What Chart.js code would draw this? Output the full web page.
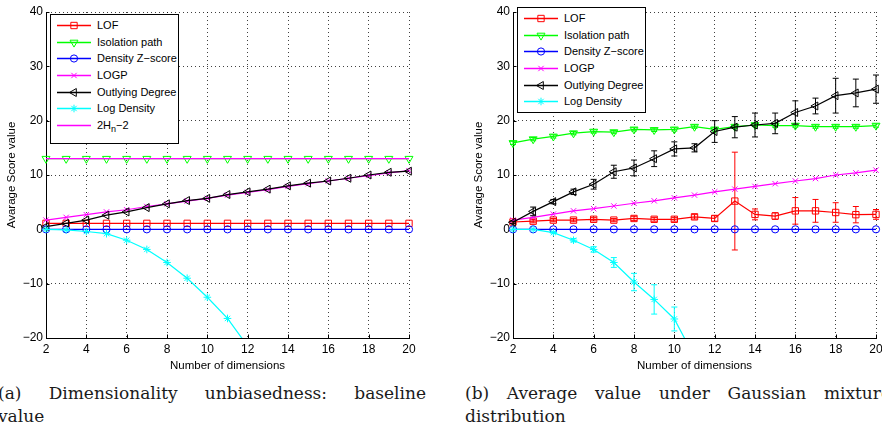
<!DOCTYPE html>
<html>
<head>
<meta charset="utf-8">
<script src="https://cdn.jsdelivr.net/npm/chart.js@4.4.1/dist/chart.umd.min.js"></script>
<style>
  html, body { margin: 0; padding: 0; background: #fff; }
  body { width: 882px; height: 432px; overflow: hidden; position: relative; font-family: "Liberation Sans", Arial, sans-serif; }
  .panel { position: absolute; top: 0; width: 430px; height: 375px; }
  .panel canvas.plot { position: absolute; left: 0; top: 0; }
  .legend { position: absolute; left: 50px; width: 127px; border: 1px solid #000; background: #fff; font-size: 11px; color: #000; padding-top: 2px; }
  .legend .row { position: relative; height: 16.7px; line-height: 16.7px; }
  .legend .row canvas { position: absolute; left: 5px; top: 1px; }
  .legend .row span { position: absolute; left: 46px; top: 0; white-space: nowrap; }
  .legend sub { font-size: 9px; vertical-align: -3px; line-height: 0; }
  .cap { position: absolute; font-family: "DejaVu Serif", "Liberation Serif", serif; font-size: 17px; line-height: 23px; color: #1a1a1a; }
  .cap .l1 { text-align: justify; text-align-last: justify; }
  .cap .l2 { white-space: nowrap; }
</style>
</head>
<body>

<div class="panel" id="panelA" style="left:0px">
  <canvas class="plot" id="chartA" width="430" height="375"></canvas>
  <div class="legend" id="legendA" style="top:14px; height:126px"></div>
</div>
<div class="panel" id="panelB" style="left:467px">
  <canvas class="plot" id="chartB" width="430" height="375"></canvas>
  <div class="legend" id="legendB" style="top:7px; height:102px"></div>
</div>

<div class="cap" style="left:-2px; top:382px; width:428px">
  <div class="l1">(a) Dimensionality unbiasedness: baseline</div>
  <div class="l2">value</div>
</div>
<div class="cap" style="left:465px; top:382px; width:426px">
  <div class="l1">(b) Average value under Gaussian mixture</div>
  <div class="l2">distribution</div>
</div>

<script>
// --- données ---
const dims = [2, 3, 4, 5, 6, 7, 8, 9, 10, 11, 12, 13, 14, 15, 16, 17, 18, 19, 20];
const xTicks = [2, 4, 6, 8, 10, 12, 14, 16, 18, 20];
const yTicks = [-20, -10, 0, 10, 20, 30, 40];

// (a) baseline
const lofA  = [1.1, 1.1, 1.1, 1.1, 1.1, 1.1, 1.1, 1.1, 1.1, 1.1, 1.1, 1.1, 1.1, 1.1, 1.1, 1.1, 1.1, 1.1, 1.1];
const isoA  = [13.0, 13.0, 13.0, 13.0, 13.0, 13.0, 13.0, 13.0, 13.0, 13.0, 13.0, 13.0, 13.0, 13.0, 13.0, 13.0, 13.0, 13.0, 13.0];
const dzA   = [0, 0, 0, 0, 0, 0, 0, 0, 0, 0, 0, 0, 0, 0, 0, 0, 0, 0, 0];
const logpA = [1.7, 2.2, 2.7, 3.2, 3.6, 4.2, 4.7, 5.2, 5.7, 6.3, 6.8, 7.3, 7.9, 8.4, 8.9, 9.4, 9.9, 10.4, 10.8];
const odA   = [0.5, 1.1, 1.7, 2.6, 3.2, 4.0, 4.7, 5.3, 5.7, 6.4, 6.9, 7.4, 8.0, 8.5, 8.9, 9.4, 10.0, 10.5, 10.7];
const ldA   = [0, -0.1, -0.4, -0.8, -2.0, -3.7, -6.1, -9.0, -12.5, -16.4, -21.5, -27.5, -34, -41, -49, -57, -66, -76, -86];
const hnA   = [13.0, 13.0, 13.0, 13.0, 13.0, 13.0, 13.0, 13.0, 13.0, 13.0, 13.0, 13.0, 13.0, 13.0, 13.0, 13.0, 13.0, 13.0, 13.0];

// (b) mélange gaussien (+ barres d'erreur)
const lofB     = [1.35, 1.5, 1.7, 1.7, 1.85, 1.7, 2.0, 1.85, 1.85, 2.3, 2.0, 5.2, 2.75, 2.45, 3.4, 3.4, 3.1, 2.7, 2.75];
const lofErrB  = [0.2, 0.3, 0.3, 0.3, 0.3, 0.3, 0.4, 0.35, 0.35, 0.4, 0.5, 9.0, 1.0, 0.6, 2.45, 2.1, 1.8, 1.5, 0.9];
const isoB     = [15.9, 16.6, 17.1, 17.7, 18.0, 17.9, 18.4, 18.3, 18.4, 18.9, 18.4, 18.9, 19.2, 19.1, 19.1, 18.9, 18.9, 18.9, 19.1];
const isoErrB  = [0.3, 0.3, 0.3, 0.3, 0.3, 0.3, 0.3, 0.3, 0.3, 0.3, 0.3, 0.3, 0.3, 0.3, 0.3, 0.3, 0.3, 0.3, 0.3];
const dzB      = [0, 0, 0, 0, 0, 0, 0, 0, 0, 0, 0, 0, 0, 0, 0, 0, 0, 0, 0];
const logpB    = [1.7, 2.2, 2.8, 3.4, 3.8, 4.3, 4.8, 5.25, 5.8, 6.3, 6.9, 7.4, 7.9, 8.4, 8.9, 9.35, 10.0, 10.4, 10.9];
const odB      = [1.3, 3.3, 5.1, 6.9, 8.3, 10.6, 11.3, 13.0, 14.8, 15.0, 18.0, 18.8, 19.2, 19.5, 21.5, 22.7, 24.6, 25.1, 25.8];
const odErrB   = [0.2, 0.8, 0.4, 0.5, 0.9, 1.2, 1.45, 1.45, 1.3, 0.75, 2.0, 1.95, 2.2, 1.9, 2.15, 1.45, 3.2, 2.55, 2.6];
const ldB      = [0, 0, -0.6, -2.0, -3.7, -6.1, -9.7, -12.9, -16.5, -23.5, -31, -40, -50, -60, -72, -84, -97, -110, -125];
const ldErrB   = [0, 0, 0.1, 0.3, 0.5, 0.9, 1.6, 2.7, 2.2, 2.5, 2.5, 2.5, 2.5, 2.5, 2.5, 2.5, 2.5, 2.5, 2.5];

// --- styles des séries (style MATLAB) ---
const STYLES = {
  lof:  { label: "LOF",             color: "#ff0000", pointStyle: "rect",     rotation: 0,   radius: 4.5 },
  iso:  { label: "Isolation path",  color: "#00ff00", pointStyle: "triangle", rotation: 180, radius: 4.6 },
  dz:   { label: "Density Z\u2212score", color: "#0000ff", pointStyle: "circle", rotation: 0, radius: 3.6 },
  logp: { label: "LOGP",            color: "#ff00ff", pointStyle: "crossRot", rotation: 0,   radius: 3.8 },
  od:   { label: "Outlying Degree", color: "#000000", pointStyle: "triangle", rotation: -90, radius: 4.6 },
  ld:   { label: "Log Density",     color: "#00ffff", pointStyle: "star",     rotation: 0,   radius: 3.8 },
  hn:   { label: "2H<sub>n</sub>\u22122", color: "#ff00ff", pointStyle: false, rotation: 0,  radius: 0 }
};

function xy(vals) {
  return dims.map((d, i) => ({ x: d, y: vals[i] }));
}

function makeDataset(key, vals, errs, idx) {
  const s = STYLES[key];
  return {
    label: s.label,
    data: xy(vals),
    errors: errs || null,
    borderColor: s.color,
    backgroundColor: "rgba(0,0,0,0)",
    borderWidth: 1.2,
    pointStyle: s.pointStyle,
    pointRotation: s.rotation,
    pointRadius: s.radius,
    pointBorderWidth: 1,
    pointBorderColor: s.color,
    pointBackgroundColor: "rgba(0,0,0,0)",
    tension: 0,
    order: 20 - idx, // les dernières séries dessinées au-dessus
    clip: { left: 8, top: 8, right: 8, bottom: 0 }
  };
}

// petits traits de graduation vers l'intérieur (comme MATLAB)
const inwardTicks = {
  id: "inwardTicks",
  beforeDatasetsDraw(chart) {
    const { ctx, chartArea: a, scales: { x, y } } = chart;
    ctx.save();
    ctx.strokeStyle = "#000";
    ctx.lineWidth = 1;
    ctx.beginPath();
    xTicks.forEach((v) => {
      const px = Math.round(x.getPixelForValue(v)) + 0.5;
      ctx.moveTo(px, a.bottom);
      ctx.lineTo(px, a.bottom - 3.5);
    });
    yTicks.forEach((v) => {
      const py = Math.round(y.getPixelForValue(v)) + 0.5;
      ctx.moveTo(a.left, py);
      ctx.lineTo(a.left + 3.5, py);
    });
    ctx.stroke();
    ctx.restore();
  }
};

// barres d'erreur dessinées via les échelles du graphique
const errorBars = {
  id: "errorBars",
  afterDatasetDraw(chart, args) {
    const ds = chart.data.datasets[args.index];
    if (!ds.errors) return;
    const { ctx, chartArea: a, scales: { x, y } } = chart;
    ctx.save();
    ctx.beginPath();
    ctx.rect(a.left - 8, a.top - 8, a.right - a.left + 16, a.bottom - a.top + 8);
    ctx.clip();
    ctx.strokeStyle = ds.borderColor;
    ctx.lineWidth = 1;
    ds.data.forEach((p, i) => {
      const e = ds.errors[i];
      if (!e) return;
      const px = x.getPixelForValue(p.x);
      const top = y.getPixelForValue(p.y + e);
      const bot = y.getPixelForValue(p.y - e);
      ctx.beginPath();
      ctx.moveTo(px, top); ctx.lineTo(px, bot);
      ctx.moveTo(px - 3, top); ctx.lineTo(px + 3, top);
      ctx.moveTo(px - 3, bot); ctx.lineTo(px + 3, bot);
      ctx.stroke();
    });
    ctx.restore();
  }
};

const FONT_TICK = { family: "'Liberation Sans', Arial, sans-serif", size: 12 };
const FONT_TITLE = { family: "'Liberation Sans', Arial, sans-serif", size: 11.5 };

function makeChart(canvasId, datasets) {
  return new Chart(document.getElementById(canvasId), {
    type: "line",
    data: { datasets },
    options: {
      responsive: false,
      animation: false,
      events: [],
      layout: { padding: { top: 12, right: 21, left: 0, bottom: 0 } },
      plugins: { legend: { display: false }, tooltip: { enabled: false } },
      scales: {
        x: {
          type: "linear",
          min: 2, max: 20,
          afterBuildTicks: (s) => { s.ticks = xTicks.map((v) => ({ value: v })); },
          afterFit: (s) => { s.height = 37; },
          ticks: { color: "#000", font: FONT_TICK, padding: 4, maxRotation: 0 },
          grid: { color: "rgba(0,0,0,0.75)", lineWidth: 1, drawTicks: false },
          border: { display: true, color: "#000", width: 1, dash: [1, 3] },
          title: { display: true, text: "Number of dimensions", color: "#000", font: FONT_TITLE, padding: { top: 0, bottom: 2 } }
        },
        y: {
          type: "linear",
          min: -20, max: 40,
          afterBuildTicks: (s) => { s.ticks = yTicks.map((v) => ({ value: v })); },
          afterFit: (s) => { s.width = 46; },
          ticks: {
            color: "#000", font: FONT_TICK, padding: 3,
            callback: (v) => (v < 0 ? "\u2212" + Math.abs(v) : String(v))
          },
          grid: { color: "rgba(0,0,0,0.75)", lineWidth: 1, drawTicks: false },
          border: { display: true, color: "#000", width: 1, dash: [1, 3] },
          title: { display: true, text: "Avarage Score value", color: "#000", font: FONT_TITLE, padding: { top: 5, bottom: 0 } }
        }
      }
    },
    plugins: [inwardTicks, errorBars]
  });
}

const chartA = makeChart("chartA", [
  makeDataset("lof", lofA, null, 0),
  makeDataset("iso", isoA, null, 1),
  makeDataset("dz", dzA, null, 2),
  makeDataset("logp", logpA, null, 3),
  makeDataset("od", odA, null, 4),
  makeDataset("ld", ldA, null, 5),
  makeDataset("hn", hnA, null, 6)
]);

const chartB = makeChart("chartB", [
  makeDataset("lof", lofB, lofErrB, 0),
  makeDataset("iso", isoB, isoErrB, 1),
  makeDataset("dz", dzB, null, 2),
  makeDataset("logp", logpB, null, 3),
  makeDataset("od", odB, odErrB, 4),
  makeDataset("ld", ldB, ldErrB, 5)
]);

// --- légende HTML (trait + marqueur) ---
function drawSample(cv, s) {
  const ctx = cv.getContext("2d");
  ctx.strokeStyle = s.color;
  ctx.fillStyle = "rgba(0,0,0,0)";
  ctx.lineWidth = 1.4;
  ctx.beginPath();
  ctx.moveTo(1, 7.5);
  ctx.lineTo(35, 7.5);
  ctx.stroke();
  if (!s.pointStyle) return;
  ctx.lineWidth = 1;
  const h = Chart.helpers;
  if (h && typeof h.drawPoint === "function") {
    h.drawPoint(ctx, { pointStyle: s.pointStyle, rotation: s.rotation, radius: s.radius, borderWidth: 1 }, 18, 7.5);
  }
}

function buildLegend(id, keys) {
  const box = document.getElementById(id);
  keys.forEach((k) => {
    const s = STYLES[k];
    const row = document.createElement("div");
    row.className = "row";
    const cv = document.createElement("canvas");
    cv.width = 36; cv.height = 15;
    const sp = document.createElement("span");
    sp.innerHTML = s.label;
    row.appendChild(cv);
    row.appendChild(sp);
    box.appendChild(row);
    drawSample(cv, s);
  });
}

buildLegend("legendA", ["lof", "iso", "dz", "logp", "od", "ld", "hn"]);
buildLegend("legendB", ["lof", "iso", "dz", "logp", "od", "ld"]);
</script>
</body>
</html>
